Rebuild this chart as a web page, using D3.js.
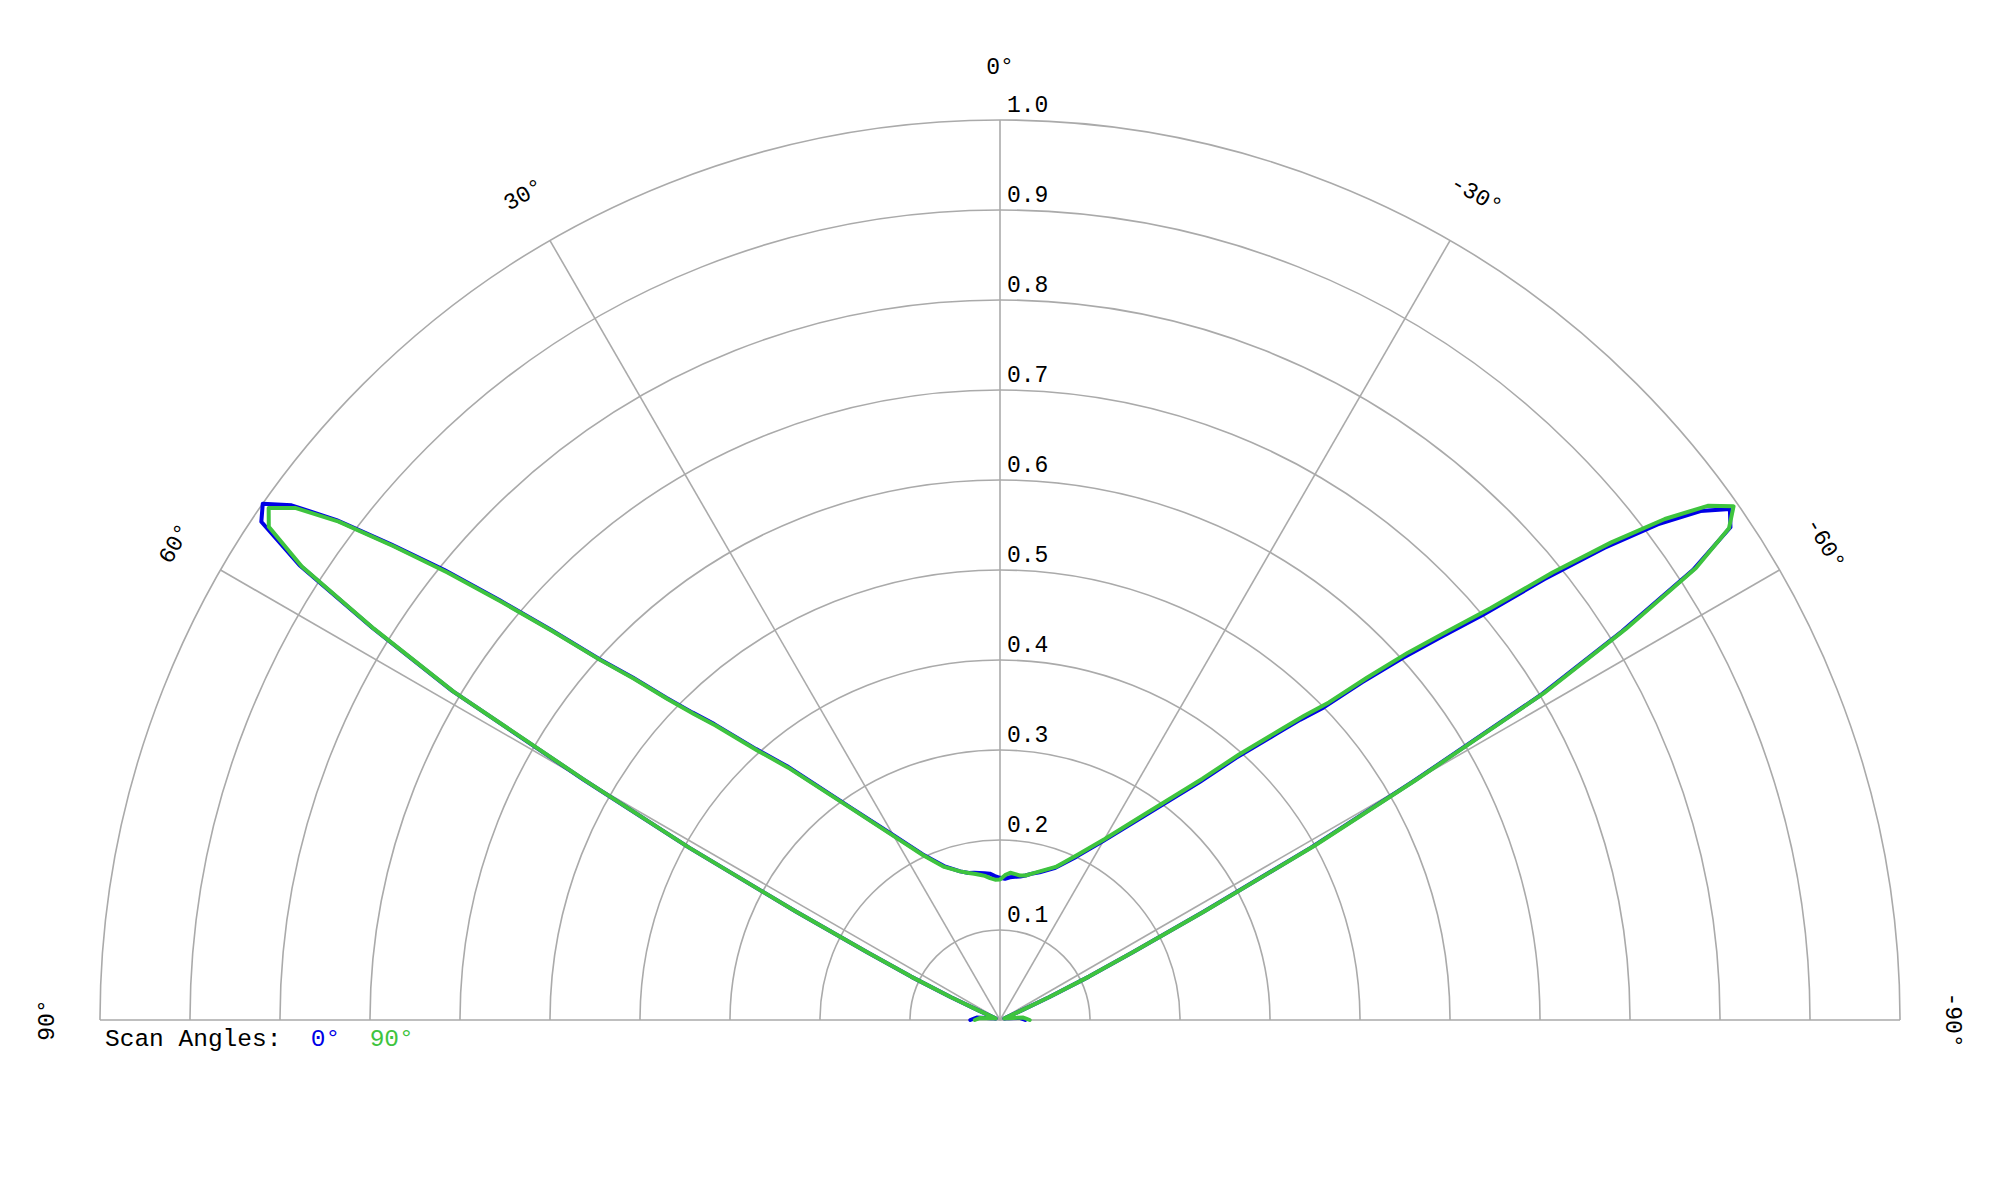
<!DOCTYPE html>
<html>
<head>
<meta charset="utf-8">
<script src="https://cdn.jsdelivr.net/npm/d3@7.9.0/dist/d3.min.js"></script>
<style>
  body { margin: 0; background: #fff; }
  text { font-family: "Liberation Mono", "DejaVu Sans Mono", monospace; font-size: 23px; fill: #000; }
</style>
</head>
<body>
<svg id="chart" width="2000" height="1200"></svg>
<script>
// look angles (deg), positive to the left
const angles = [-90, -84, -78, -72, -68, -66, -65, -64, -63, -62, -61, -60, -59, -58, -57, -56, -55, -54, -53, -52, -51, -50,
  -49, -48, -47, -46, -45, -44, -42, -40, -35, -30, -25, -20, -15, -12, -10, -8, -6, -4, -2, 0,
  2, 4, 6, 8, 10, 12, 15, 20, 25, 30, 35, 40, 42, 44, 45, 46, 47, 48, 49, 50, 51, 52, 53, 54, 55,
  56, 57, 58, 59, 60, 61, 62, 63, 64, 65, 66, 68, 72, 78, 84, 90];

// normalised amplitude for scan angle 0°
const scan0 = [0.028, 0.022, 0.01, 0.005, 0.008, 0.025, 0.06, 0.11, 0.165, 0.255, 0.395, 0.53, 0.70, 0.815, 0.918, 0.979, 0.99, 0.962, 0.915, 0.852, 0.778, 0.70,
  0.648, 0.60, 0.55, 0.50, 0.472, 0.442, 0.392, 0.345, 0.275, 0.23, 0.20, 0.18, 0.17, 0.166, 0.163, 0.161, 0.16, 0.159, 0.157, 0.158,
  0.16, 0.163, 0.164, 0.165, 0.166, 0.167, 0.171, 0.182, 0.203, 0.237, 0.287, 0.368, 0.405, 0.457, 0.483, 0.515, 0.558, 0.60, 0.66, 0.725, 0.795, 0.858, 0.923, 0.973, 1.0,
  0.99, 0.928, 0.822, 0.71, 0.535, 0.395, 0.258, 0.165, 0.11, 0.06, 0.025, 0.008, 0.005, 0.01, 0.026, 0.033];

// normalised amplitude for scan angle 90°
const scan90 = [0.033, 0.026, 0.01, 0.005, 0.008, 0.025, 0.06, 0.11, 0.165, 0.258, 0.40, 0.535, 0.705, 0.82, 0.922, 0.977, 0.995, 0.972, 0.925, 0.862, 0.79, 0.712,
  0.658, 0.61, 0.558, 0.508, 0.478, 0.448, 0.397, 0.35, 0.278, 0.232, 0.202, 0.181, 0.171, 0.166, 0.163, 0.162, 0.163, 0.164, 0.161, 0.156,
  0.156, 0.158, 0.161, 0.163, 0.165, 0.167, 0.171, 0.181, 0.202, 0.236, 0.286, 0.366, 0.403, 0.455, 0.481, 0.513, 0.556, 0.598, 0.658, 0.722, 0.79, 0.855, 0.92, 0.968, 0.992,
  0.98, 0.925, 0.82, 0.708, 0.532, 0.395, 0.258, 0.165, 0.11, 0.06, 0.025, 0.008, 0.005, 0.01, 0.022, 0.028];

const ringTicks = [0.1, 0.2, 0.3, 0.4, 0.5, 0.6, 0.7, 0.8, 0.9, 1.0];
const spokeTicks = [-60, -30, 0, 30, 60];
const angleLabels = [90, 60, 30, 0, -30, -60, -90];

const series = [
  { name: '0°', values: scan0, color: '#0000e6' },
  { name: '90°', values: scan90, color: '#3ec43e' }
];

const cx = 1000, cy = 1020, R = 900;
const svg = d3.select('#chart');
const g = svg.append('g').attr('transform', `translate(${cx},${cy})`);

const r = d3.scaleLinear().domain([0, 1]).range([0, R]);
// d3 radial angles run clockwise from 12 o'clock, ours run counter-clockwise
const a = d3.scaleLinear().domain([-90, 90]).range([Math.PI / 2, -Math.PI / 2]);

// rings
const ringArc = d3.arc()
  .innerRadius(d => r(d))
  .outerRadius(d => r(d))
  .startAngle(-Math.PI / 2)
  .endAngle(Math.PI / 2);

g.selectAll('.ring')
  .data(ringTicks)
  .join('path')
  .attr('class', 'ring')
  .attr('d', ringArc)
  .attr('fill', 'none')
  .attr('stroke', '#aaa')
  .attr('stroke-width', 1.6);

// spokes and baseline
g.selectAll('.spoke')
  .data(spokeTicks)
  .join('line')
  .attr('class', 'spoke')
  .attr('x1', 0).attr('y1', 0)
  .attr('x2', d => r(1) * Math.sin(a(d)))
  .attr('y2', d => -r(1) * Math.cos(a(d)))
  .attr('stroke', '#aaa')
  .attr('stroke-width', 1.6);

g.append('line')
  .attr('x1', -r(1)).attr('x2', r(1))
  .attr('y1', 0).attr('y2', 0)
  .attr('stroke', '#aaa')
  .attr('stroke-width', 1.6);

// radial tick labels
g.selectAll('.rlabel')
  .data(ringTicks)
  .join('text')
  .attr('class', 'rlabel')
  .attr('x', 7)
  .attr('y', d => -r(d) - 8)
  .text(d => d.toFixed(1));

// angle labels
g.selectAll('.alabel')
  .data(angleLabels)
  .join('text')
  .attr('class', 'alabel')
  .attr('text-anchor', 'middle')
  .attr('dominant-baseline', 'central')
  .attr('transform', d => {
    const ang = a(d);
    const x = (R + 52) * Math.sin(ang);
    const y = -(R + 52) * Math.cos(ang);
    return `translate(${x},${y}) rotate(${-d})`;
  })
  .text(d => `${d}°`);

// patterns
const line = d3.lineRadial()
  .angle((d, i) => a(angles[i]))
  .radius(d => r(d))
  .curve(d3.curveLinear);

series.forEach(s => {
  g.append('path')
    .attr('d', line(s.values))
    .attr('fill', 'none')
    .attr('stroke', s.color)
    .attr('stroke-width', 4)
    .attr('stroke-linejoin', 'round')
    .attr('stroke-linecap', 'round');
});

// legend
const legend = svg.append('text')
  .attr('x', 105)
  .attr('y', 1046)
  .style('font-size', '24.5px')
  .attr('xml:space', 'preserve');
legend.append('tspan').text('Scan Angles:');
series.forEach(s => {
  legend.append('tspan').style('fill', s.color).text('  ' + s.name);
});
</script>
</body>
</html>
